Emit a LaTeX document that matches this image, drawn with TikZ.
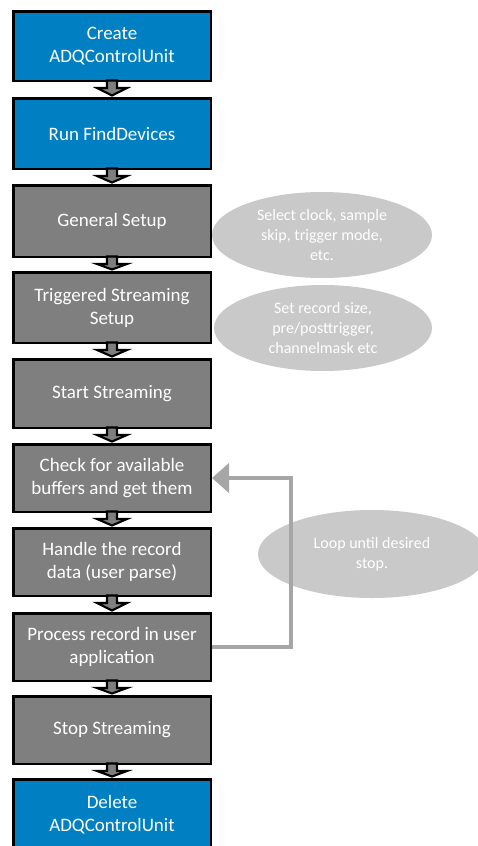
\documentclass[tikz,border=0pt]{standalone}
\usepackage{fontspec}
\setmainfont{Carlito}
\usetikzlibrary{shapes.geometric,calc,arrows.meta}
\definecolor{boxblue}{RGB}{0,128,194}
\definecolor{boxgray}{RGB}{127,127,127}
\definecolor{ellgray}{RGB}{201,201,201}
\definecolor{loopgray}{RGB}{166,166,166}
\newcommand{\blkarrow}[2]{%
  \draw[conn] ($(#1.south)+(-5,-1.5)$) -- ($(#1.south)+(-5,6)$) -- ($(#1.south)+(-15,6)$) -- ($(#2.north)+(0,-1.5)$) -- ($(#1.south)+(15,6)$) -- ($(#1.south)+(5,6)$) -- ($(#1.south)+(5,-1.5)$) -- cycle;}
\begin{document}
\begin{tikzpicture}[x=1pt,y=-1pt,
  stepbox/.style={draw=black,line width=2.5pt,minimum width=197.5pt,align=center,text=white,
    font=\fontsize{19}{23}\selectfont,inner sep=0pt},
  bluebox/.style={stepbox,fill=boxblue},
  graybox/.style={stepbox,fill=boxgray},
  note/.style={ellipse,fill=ellgray,draw=none,align=center,text=white,inner sep=0pt,
    font=\fontsize{16}{20}\selectfont},
  conn/.style={fill=boxgray,draw=black,line width=2.1pt,line join=miter},
  loopar/.style={draw=loopgray,line width=4pt,-{Triangle[width=29pt,length=17pt]}}]
\useasboundingbox (0,0) rectangle (478,846);
\fill[white] (0,0) rectangle (478,846);
% notes
\node[note,minimum width=220pt,minimum height=86pt] (n1) at (322,235) {Select clock, sample\\skip, trigger mode,\\etc.};
\node[note,minimum width=218pt,minimum height=86pt] (n2) at (323,328) {Set record size,\\pre/posttrigger,\\channelmask etc};
\node[note,minimum width=228pt,minimum height=88pt] (n3) at (372,554) {Loop until desired\\stop.};
% boxes
\node[bluebox,minimum height=69.5pt] (b1) at (112,46) {Create\\ADQControlUnit};
\node[bluebox,minimum height=70.5pt] (b2) at (112,133.5) {Run FindDevices};
\node[graybox,minimum height=71.5pt] (b3) at (112,221) {General Setup};
\node[graybox,minimum height=70.5pt] (b4) at (112,307.5) {Triggered Streaming\\Setup};
\node[graybox,minimum height=68.5pt] (b5) at (112,393.5) {Start Streaming};
\node[graybox,minimum height=67.5pt] (b6) at (112,478) {Check for available\\buffers and get them};
\node[graybox,minimum height=67.5pt] (b7) at (112,562) {Handle the record\\data (user parse)};
\node[graybox,minimum height=67.5pt] (b8) at (112,647) {Process record in user\\application};
\node[graybox,minimum height=67.5pt] (b9) at (112,730) {Stop Streaming};
\node[bluebox,minimum height=71.5pt] (b10) at (112,815) {Delete\\ADQControlUnit};
% connectors
\blkarrow{b1}{b2}
\blkarrow{b2}{b3}
\blkarrow{b3}{b4}
\blkarrow{b4}{b5}
\blkarrow{b5}{b6}
\blkarrow{b6}{b7}
\blkarrow{b7}{b8}
\blkarrow{b8}{b9}
\blkarrow{b9}{b10}
% loop
\coordinate (lp) at ($(b8.east)+(79,0)$);
\draw[loopar] (b8.east) -- (lp) |- (b6.east);
\end{tikzpicture}
\end{document}
